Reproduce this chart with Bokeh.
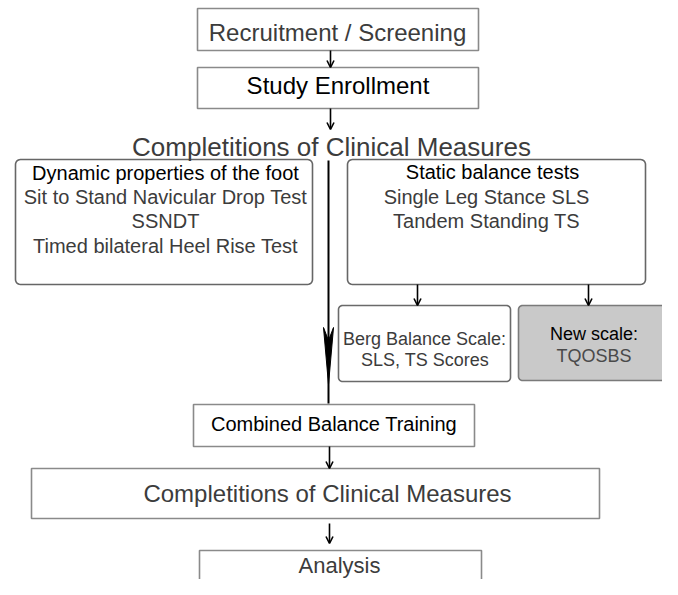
import math
from bokeh.plotting import figure
from bokeh.models import Range1d, Arrow, OpenHead, ColumnDataSource
from bokeh.core.properties import value
from bokeh.embed import file_html
from bokeh.resources import INLINE

# ---- content (labels) ----
box_names = ["recruit", "enroll", "dynamic", "static", "berg", "newscale",
             "training", "measures2", "analysis"]
text_lines = [
    "Recruitment / Screening",
    "Study Enrollment",
    "Completitions of Clinical Measures",
    "Dynamic properties of the foot",
    "Sit to Stand Navicular Drop Test",
    "SSNDT",
    "Timed bilateral Heel Rise Test",
    "Static balance tests",
    "Single Leg Stance SLS",
    "Tandem Standing TS",
    "Berg Balance Scale:",
    "SLS, TS Scores",
    "New scale:",
    "TQOSBS",
    "Combined Balance Training",
    "Completitions of Clinical Measures",
    "Analysis",
]

# ---- layout (pixel-like coordinates, y downward) ----
box_left   = [197, 197, 15, 347, 338, 518, 193, 31, 199]
box_right  = [478, 478, 312, 645, 510, 680, 474, 599, 481]
box_top    = [8, 67, 159, 159, 305, 305, 404, 468, 550]
box_bottom = [50, 108, 284, 284, 381, 380, 446, 518, 610]
box_radius = [0, 0, 5, 5, 4, 4, 0, 0, 0]
box_fill   = ["white", "white", "white", "white", "white", "#c9c9c9", "white", "white", "white"]
box_line   = ["#8a8a8a", "#8a8a8a", "#666666", "#666666", "#6a6a6a", "#7a7a7a", "#8a8a8a", "#8a8a8a", "#8a8a8a"]

text_x     = [337, 337.5, 331, 165, 165, 165, 165, 492, 486, 486, 424, 424.5, 593.5, 593.5, 333.5, 327, 339]
text_y     = [32, 84.5, 146, 172, 196.5, 220.5, 245, 171, 196, 220, 338, 359, 333, 355, 423, 492.5, 565]
text_size  = ["24px", "24px", "26px", "20px", "20px", "20px", "20px", "20px", "20px", "20px",
              "18px", "18px", "18px", "18px", "20px", "24px", "22px"]
text_color = ["#3c3c3c", "#000000", "#3c3c3c", "#000000", "#3c3c3c", "#3c3c3c", "#3c3c3c",
              "#000000", "#3c3c3c", "#3c3c3c", "#3c3c3c", "#3c3c3c", "#000000", "#4a4a4a",
              "#000000", "#3c3c3c", "#3c3c3c"]

arrow_x     = [330, 330, 417, 588, 329, 329]
arrow_start = [50, 108, 284, 284, 446, 523]
arrow_end   = [67, 129, 305, 305, 468, 543]

long_x, long_top, long_bottom = 328, 160, 403
head_top, head_notch, head_tip, head_half = 327, 340, 384, 5

W, H = 662, 579
p = figure(width=W, height=H, output_backend="svg", toolbar_location=None,
           x_range=Range1d(0, W), y_range=Range1d(H, 0),
           min_border=0, background_fill_color="white", border_fill_color="white")
p.axis.visible = False
p.grid.visible = False
p.outline_line_color = None


def rounded(l, r, t, b, rad):
    if rad <= 0:
        return [l, r, r, l], [t, t, b, b]
    xs, ys = [], []
    corners = [(r - rad, t + rad, -90, 0), (r - rad, b - rad, 0, 90),
               (l + rad, b - rad, 90, 180), (l + rad, t + rad, 180, 270)]
    for cx, cy, a0, a1 in corners:
        for k in range(7):
            a = math.radians(a0 + (a1 - a0) * k / 6)
            xs.append(cx + rad * math.cos(a))
            ys.append(cy + rad * math.sin(a))
    return xs, ys


bx, by = [], []
for i in range(len(box_names)):
    xs, ys = rounded(box_left[i], box_right[i], box_top[i], box_bottom[i], box_radius[i])
    bx.append(xs)
    by.append(ys)
p.patches(xs=bx, ys=by, fill_color=box_fill, line_color=box_line, line_width=1.6)

# long vertical connector with barbed head
p.line(x=[long_x, long_x], y=[long_top, long_bottom], line_color="black", line_width=2)
p.patch(x=[long_x - head_half, long_x, long_x + head_half, long_x],
        y=[head_top, head_notch, head_top, head_tip], fill_color="black", line_color="black", line_width=1)

for ax, a0, a1 in zip(arrow_x, arrow_start, arrow_end):
    p.add_layout(Arrow(end=OpenHead(size=7, line_width=1.6, line_color="black"),
                       x_start=ax, y_start=a0, x_end=ax, y_end=a1,
                       line_color="black", line_width=1.6))

src = ColumnDataSource(dict(x=text_x, y=text_y, t=text_lines, s=text_size, c=text_color))
p.text(x="x", y="y", text="t", source=src, text_font=value("Liberation Sans"),
       text_font_size="s", text_color="c", text_align="center", text_baseline="middle")

open("out.html", "w").write(file_html(p, INLINE))
